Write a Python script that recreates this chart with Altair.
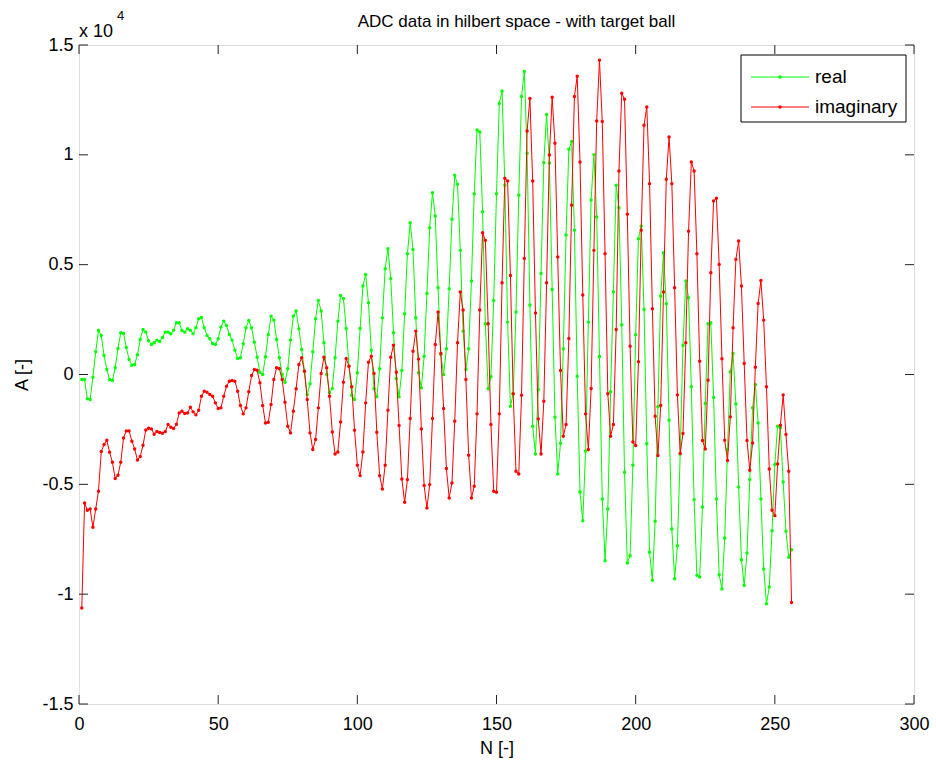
import altair as alt
import pandas as pd

# ---------------- data ----------------
n_values = list(range(1, 257))

real_values = [
    -228, -228, -1109, -1139, -122, 1033, 2005, 1777, 866, 228,
    -228, -273, 304, 1185, 1899, 1868, 1230, 684, 425, 456,
    896, 1595, 2051, 1929, 1534, 1367, 1443, 1565, 1504, 1686,
    1929, 1929, 1853, 2020, 2354, 2354, 2005, 1929, 2081, 2020,
    1853, 2127, 2537, 2590, 2127, 1777, 1625, 1413, 1367, 1625,
    2157, 2430, 2233, 1823, 1565, 1109, 729, 760, 1397, 2127,
    2461, 2127, 1473, 790, 106, 0, 805, 1823, 2658, 2476,
    1595, 760, 0, -349, 258, 1565, 2658, 2886, 2081, 1139,
    152, -911, -425, 1033, 2537, 3372, 2886, 1443, 0, -835,
    -638, 760, 2430, 3600, 3463, 2096, 380, -942, -1139, 76,
    2096, 4025, 4557, 3266, 1109, -653, -1018, 258, 2582, 4815,
    5727, 4375, 1899, -197, -1018, 182, 2765, 5499, 6911, 5696,
    2582, 76, -608, 835, 3691, 6684, 8279, 7215, 3949, 911,
    0, 1170, 3904, 7063, 9068, 8658, 5651, 1975, 228, 1170,
    4253, 8233, 11134, 11043, 7413, 2309, -653, -106, 3372, 8233,
    12334, 12911, 8613, 2385, -1443, -881, 2841, 8157, 12653, 13793,
    10071, 3160, -2354, -3615, -684, 4603, 9646, 11833, 9630, 3873,
    -1944, -4527, -3129, 1170, 6349, 10253, 10603, 6562, -76, -5347,
    -6653, -3494, 2385, 7944, 10010, 7170, 820, -5666, -8476, -6122,
    -790, 3767, 8613, 7595, 2263, -4451, -8582, -8248, -4132, 1808,
    6182, 6760, 2962, -3144, -8096, -9372, -6684, -1473, 3570, 5544,
    3220, -2081, -7033, -9296, -7792, -3615, 1322, 4253, 3494, -562,
    -5696, -9144, -9220, -6030, -1322, 2309, 2354, -1048, -5666, -9114,
    -9767, -7443, -3418, 122, 957, -1337, -5119, -8430, -9600, -8127,
    -4785, -1519, -456, -2203, -5666, -8856, -10436, -9676, -7109, -4101,
    -2354, -2430, -4891, -7139, -8324, -7975,
]

imag_values = [
    -10633, -5848, -6182, -6122, -6957, -6122, -5317, -3509, -3190, -2992,
    -3539, -3995, -4739, -4587, -3995, -2886, -2567, -2567, -3038, -3387,
    -3889, -3737, -3220, -2522, -2446, -2476, -2719, -2597, -2643, -2673,
    -2597, -2279, -2400, -2461, -2263, -1747, -1671, -1777, -1747, -1489,
    -1701, -1838, -1630, -987, -760, -805, -911, -987, -1291, -1549,
    -1519, -987, -532, -304, -273, -304, -760, -1413, -1792, -1519,
    -780, -46, 228, 197, -380, -1413, -2203, -2172, -1367, -228,
    304, 273, -228, -1261, -2354, -2658, -1671, -653, 456, 760,
    152, -1139, -2658, -3418, -2962, -1519, 46, 790, 304, -987,
    -2613, -3615, -3524, -2157, -349, 729, 380, -562, -2537, -4132,
    -4603, -3524, -1291, 562, 835, 46, -2628, -4603, -5210, -4132,
    -1625, 790, 1337, 106, -2324, -4754, -5818, -4785, -2005, 1063,
    1975, 700, -2476, -5058, -6076, -5013, -2005, 1367, 2841, 957,
    -1549, -4284, -5620, -4937, -2127, 1443, 3752, 2932, -228, -3676,
    -5620, -5089, -1792, 2932, 6456, 6106, 2309, -2279, -5317, -5362,
    -1792, 4177, 8932, 8810, 4511, -881, -4405, -4527, -942, 5286,
    11089, 12562, 8810, 2795, -2020, -3615, -1215, 4177, 9995, 12623,
    10527, 5347, 182, -2810, -2279, 1641, 7701, 12653, 13580, 9676,
    3615, -1792, -3418, -638, 5651, 11544, 14309, 11514, 5499, -881,
    -2810, -2279, 2051, 9266, 12800, 12532, 7291, 1291, -3068, -3235,
    577, 6562, 11347, 12182, 8689, 2992, -1899, -3691, -1413, 3752,
    8886, 10815, 8689, 3949, -927, -3600, -2689, 1443, 6517, 9676,
    9266, 5499, 608, -3008, -3387, -258, 4633, 7899, 8020, 5013,
    714, -2992, -3919, -1929, 2127, 5241, 6076, 4025, 501, -3008,
    -4360, -3114, 334, 3235, 4284, 2476, -562, -4299, -6182, -6425,
    -4071, -2309, -927, -2734, -4405, -10375,
]

series_names = ["real", "imaginary"]
series_colors = ["#00ff00", "#ff0000"]
x_ticks = [0, 50, 100, 150, 200, 250, 300]
y_ticks = [-15000, -10000, -5000, 0, 5000, 10000, 15000]
title_text = "ADC data in hilbert space - with target ball"
x_title = "N [-]"
y_title = "A [-]"
exponent_base = "x 10"
exponent_power = "4"

# ---------------- build tables ----------------
df = pd.DataFrame({
    "n": n_values + n_values,
    "value": real_values + imag_values,
    "series": [series_names[0]] * len(n_values) + [series_names[1]] * len(n_values),
})
xt_df = pd.DataFrame({"n": x_ticks})
yt_df = pd.DataFrame({"value": y_ticks})

W, H = 835, 659
FONT = "Liberation Sans"
FS = 18

xscale = alt.Scale(domain=[0, 300], nice=False, zero=False)
yscale = alt.Scale(domain=[-15000, 15000], nice=False, zero=False)
cscale = alt.Scale(domain=series_names, range=series_colors)

xaxis = alt.Axis(
    values=x_ticks, ticks=False, domain=False, grid=False,
    labelFont=FONT, labelFontSize=FS, labelColor="black", labelPadding=11,
    labelFlush=False, labelBaseline="top",
    title=x_title, titleFont=FONT, titleFontSize=FS, titleFontWeight="normal",
    titleColor="black", titleX=W / 2, titleY=44, titleAlign="center",
    titleBaseline="middle",
)
yaxis = alt.Axis(
    values=y_ticks, ticks=False, domain=False, grid=False,
    labelExpr="'' + (datum.value / 10000)",
    labelFont=FONT, labelFontSize=FS, labelColor="black", labelPadding=6,
    labelFlush=False, labelBaseline="middle",
    title=y_title, titleFont=FONT, titleFontSize=FS, titleFontWeight="normal",
    titleColor="black", titleX=-57, titleY=H / 2, titleAngle=270,
    titleAlign="center", titleBaseline="middle",
)

X = alt.X("n:Q", scale=xscale, axis=xaxis)
Y = alt.Y("value:Q", scale=yscale, axis=yaxis)

layers = []
for name in series_names:
    layers.append(
        alt.Chart(df)
        .transform_filter(alt.datum.series == name)
        .mark_line(strokeWidth=1, point=alt.OverlayMarkDef(filled=True, size=12, opacity=1))
        .encode(x=X, y=Y, color=alt.Color("series:N", scale=cscale, legend=None))
    )

# inward ticks on all four sides (MATLAB box style)
tick_color = "#222222"
layers.append(alt.Chart(xt_df).mark_rule(color=tick_color, strokeWidth=1).encode(
    x=X, y=alt.value(H), y2=alt.value(H - 9)))
layers.append(alt.Chart(xt_df).mark_rule(color=tick_color, strokeWidth=1).encode(
    x=X, y=alt.value(0), y2=alt.value(9)))
layers.append(alt.Chart(yt_df).mark_rule(color=tick_color, strokeWidth=1).encode(
    y=Y, x=alt.value(0), x2=alt.value(9)))
layers.append(alt.Chart(yt_df).mark_rule(color=tick_color, strokeWidth=1).encode(
    y=Y, x=alt.value(W), x2=alt.value(W - 9)))

# title and exponent label "x 10^4"
one = pd.DataFrame({"a": [0]})
layers.append(alt.Chart(one).mark_text(
    align="center", baseline="alphabetic", font=FONT, fontSize=17, color="black"
).encode(x=alt.value(W / 2 + 20), y=alt.value(-18), text=alt.value(title_text)))
layers.append(alt.Chart(one).mark_text(
    align="left", baseline="alphabetic", font=FONT, fontSize=FS, color="black"
).encode(x=alt.value(0), y=alt.value(-8), text=alt.value(exponent_base)))
layers.append(alt.Chart(one).mark_text(
    align="left", baseline="alphabetic", font=FONT, fontSize=13, color="black"
).encode(x=alt.value(38), y=alt.value(-25), text=alt.value(exponent_power)))

# legend box
layers.append(alt.Chart(one).mark_rect(fill="white", stroke="black", strokeWidth=1).encode(
    x=alt.value(662), x2=alt.value(827), y=alt.value(10), y2=alt.value(77)))
for i, (name, col) in enumerate(zip(series_names, series_colors)):
    row = pd.DataFrame({"label": [name]})
    yy = 32 + 30 * i
    layers.append(alt.Chart(row).mark_rule(color=col, strokeWidth=1).encode(
        x=alt.value(672), x2=alt.value(730), y=alt.value(yy)))
    layers.append(alt.Chart(row).mark_point(color=col, filled=True, size=12, opacity=1).encode(
        x=alt.value(701), y=alt.value(yy)))
    layers.append(alt.Chart(row).mark_text(
        align="left", baseline="middle", font=FONT, fontSize=19, color="black"
    ).encode(x=alt.value(736), y=alt.value(yy), text="label:N"))

chart = (
    alt.layer(*layers)
    .properties(
        width=W, height=H,
        autosize=alt.AutoSizeParams(type="none"),
        padding={"left": 79, "top": 45, "right": 22, "bottom": 67},
    )
    .configure_view(stroke="black", strokeWidth=1)
    .configure(background="white")
)

chart.save("out.html", embed_options={"renderer": "svg", "actions": False})
